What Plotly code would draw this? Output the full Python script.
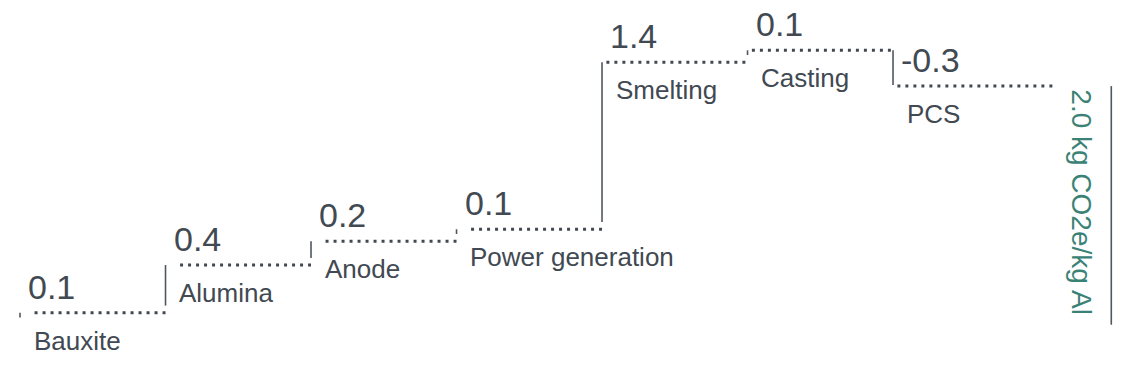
import plotly.graph_objects as go

# ---- data ----
categories = ["Bauxite", "Alumina", "Anode", "Power generation", "Smelting", "Casting", "PCS"]
values = [0.1, 0.4, 0.2, 0.1, 1.4, 0.1, -0.3]
value_labels = ["0.1", "0.4", "0.2", "0.1", "1.4", "0.1", "-0.3"]
total_label = "2.0 kg CO2e/kg Al"

# ---- style ----
DARK = "#414952"
TEAL = "#3b8276"
FONT = "Liberation Sans, Arial, sans-serif"
GAP = 0.06          # gap at the lower end of each riser (data units)
TAIL = 0.12         # extra length of last dotted segment

n = len(values)
levels = []
acc = 0.0
for v in values:
    acc += v
    levels.append(acc)
total = levels[-1]

fig = go.Figure()

# dotted level lines
dx, dy = [], []
for i, lv in enumerate(levels):
    x0 = i + (0.1 if i < 4 else 0.03)
    x1 = i + 1 + (TAIL if i == n - 1 else 0)
    dx += [x0, x1, None]
    dy += [lv, lv, None]
fig.add_trace(go.Scatter(x=dx, y=dy, mode="lines",
                         line=dict(color=DARK, width=3, dash="3px,5px"),
                         hoverinfo="skip", showlegend=False))

# risers
rx, ry = [], []
prev = 0.0
for i, lv in enumerate(levels):
    if lv >= prev:
        top, bottom = lv, prev + GAP
    else:
        top, bottom = prev, lv + 0.01
    rx += [i, i, None]
    ry += [top, bottom, None]
    prev = lv
fig.add_trace(go.Scatter(x=rx, y=ry, mode="lines",
                         line=dict(color="#50575e", width=1.6),
                         hoverinfo="skip", showlegend=False))

# total bar line
fig.add_trace(go.Scatter(x=[n + 0.5, n + 0.5], y=[0, total], mode="lines",
                         line=dict(color="#50575e", width=1.6),
                         hoverinfo="skip", showlegend=False))

annotations = []
for i, (cat, lab, lv) in enumerate(zip(categories, value_labels, levels)):
    annotations.append(dict(x=i + 0.05, y=lv, text=lab, showarrow=False,
                            xanchor="left", yanchor="bottom", yshift=6,
                            borderpad=0,
                            font=dict(family=FONT, size=34, color=DARK)))
    annotations.append(dict(x=i + 0.08, y=lv, text=cat, showarrow=False,
                            xanchor="left", yanchor="top", yshift=-11,
                            font=dict(family=FONT, size=26, color=DARK)))
annotations.append(dict(x=n + 0.5, y=total, text=total_label, showarrow=False,
                        textangle=90, xanchor="right", yanchor="top",
                        xshift=-12, yshift=-1,
                        font=dict(family=FONT, size=28, color=TEAL)))

fig.update_layout(
    width=1127, height=382,
    margin=dict(l=0, r=0, t=0, b=0),
    paper_bgcolor="white", plot_bgcolor="white",
    xaxis=dict(range=[-0.1375, 7.608], visible=False, fixedrange=True),
    yaxis=dict(range=[-0.4803, 2.7217], visible=False, fixedrange=True),
    annotations=annotations,
)

fig.write_html("out.html",
               config={"displayModeBar": False, "staticPlot": True},
               post_script="document.body.style.margin='0';document.body.style.overflow='hidden';")
